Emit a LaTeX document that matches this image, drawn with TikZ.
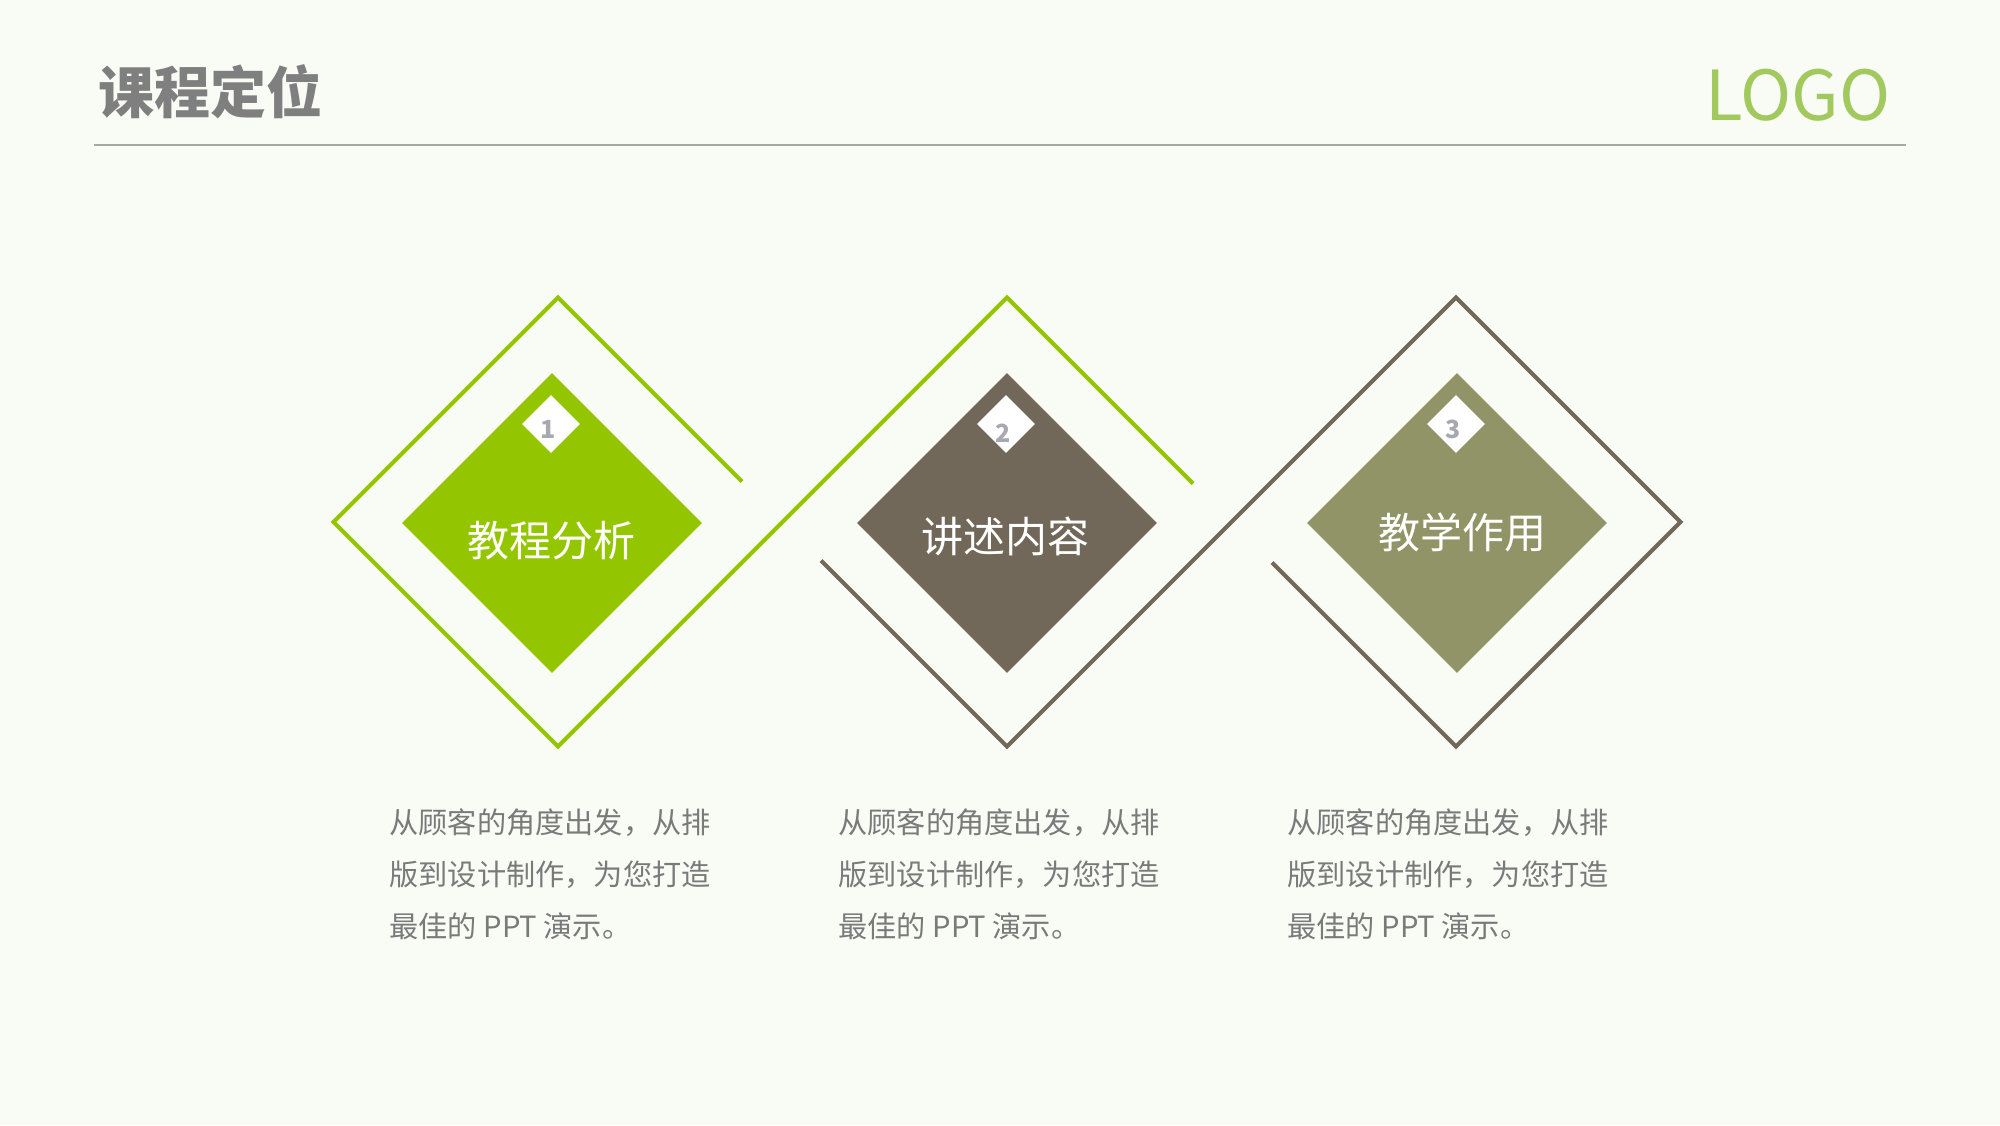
\documentclass[tikz,border=0pt]{standalone}
\usepackage{fontspec}
\setmainfont{Noto Sans CJK SC}
\newfontfamily\cjk{Noto Sans CJK SC}
\usetikzlibrary{shapes.geometric}
\definecolor{bg}{HTML}{F9FBF5}
\definecolor{lgreen}{HTML}{94C600}
\definecolor{brownc}{HTML}{72685A}
\definecolor{olivec}{HTML}{919467}
\definecolor{titlegray}{HTML}{7F7F7F}
\definecolor{rulegray}{HTML}{A6A6A6}
\definecolor{logogreen}{HTML}{A2C95E}
\definecolor{numgray}{HTML}{A8A8B0}
\definecolor{bodygray}{HTML}{7A7A7A}
\tikzset{
  bigdia/.style={diamond, aspect=1, inner sep=0pt, minimum width=300*0.5pt, minimum height=300*0.5pt, draw=none},
  smalldia/.style={diamond, aspect=1, inner sep=0pt, minimum width=58*0.5pt, minimum height=58*0.5pt, fill=white, draw=none},
  numtxt/.style={font=\cjk\fontsize{12.5}{14}\selectfont\bfseries, text=numgray, inner sep=0pt},
  labtxt/.style={font=\cjk\fontsize{21}{24}\selectfont, text=white, inner sep=0pt},
  bodytxt/.style={font=\cjk\fontsize{14.6}{16}\selectfont, text=bodygray, inner sep=0pt, anchor=base west},
  outline/.style={line width=2pt, line join=miter},
}
\begin{document}
\begin{tikzpicture}[x=0.5pt,y=-0.5pt]
\fill[bg] (0,0) rectangle (2000,1125);
\useasboundingbox (0,0) rectangle (2000,1125);
% header
\node[font=\cjk\fontsize{28}{32}\selectfont\bfseries, text=titlegray, anchor=west, inner sep=0pt] (title) at (98,92) {课程定位};
\node[font=\cjk\fontsize{34.5}{38}\selectfont, text=logogreen, anchor=east, inner sep=0pt] (logo) at (1891,95) {LOGO};
\coordinate (rl) at (94,145);
\coordinate (rr) at (1906,145);
\draw[rulegray, line width=1.3pt] (rl) -- (rr);
% outline polylines
\coordinate (g0) at (742,481.5);
\coordinate (t1) at (558,297.5);
\coordinate (l1) at (333.5,522);
\coordinate (b1) at (558,746.5);
\coordinate (t2) at (1007,297.5);
\coordinate (g5) at (1193,483.5);
\coordinate (k0) at (821,560.5);
\coordinate (b2) at (1007,746.5);
\coordinate (t3) at (1456,297.5);
\coordinate (r3) at (1680.5,522);
\coordinate (b3) at (1456,746.5);
\coordinate (k5) at (1272,562.5);
\draw[outline, lgreen] (g0) -- (t1) -- (l1) -- (b1) -- (t2) -- (g5);
\draw[outline, brownc] (k0) -- (b2) -- (t3) -- (r3) -- (b3) -- (k5);
% inner diamonds
\node[bigdia, fill=lgreen] (d1) at (552,523) {};
\node[bigdia, fill=brownc] (d2) at (1007,523) {};
\node[bigdia, fill=olivec] (d3) at (1457,523) {};
\node[smalldia] (s1) at (551,424) {};
\node[smalldia] (s2) at (1006,424) {};
\node[smalldia] (s3) at (1456,424) {};
\node[numtxt] (n1) at (548,429) {1};
\node[numtxt] (n2) at (1003,433) {2};
\node[numtxt] (n3) at (1453,429) {3};
\node[labtxt] (L1) at (551,541) {教程分析};
\node[labtxt] (L2) at (1005,536) {讲述内容};
\node[labtxt] (L3) at (1462,532) {教学作用};
% body texts
\foreach \x/\n in {389/a,838/b,1287/c}{
  \node[bodytxt] (\n1) at (\x,833) {从顾客的角度出发，从排};
  \node[bodytxt] (\n2) at (\x,885) {版到设计制作，为您打造};
  \node[bodytxt] (\n3) at (\x,937) {最佳的 PPT 演示。};
}
\end{tikzpicture}
\end{document}
